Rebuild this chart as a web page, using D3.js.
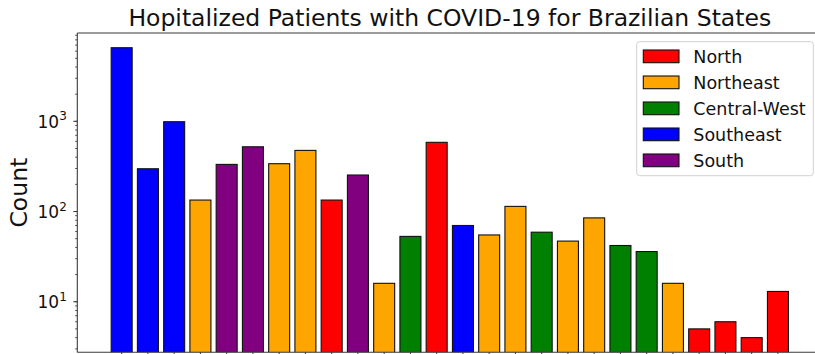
<!DOCTYPE html>
<html>
<head>
<meta charset="utf-8">
<script src="https://cdn.jsdelivr.net/npm/d3@7"></script>
<style>
  html, body { margin: 0; padding: 0; background: #fff; }
  svg { display: block; font-family: "DejaVu Sans", sans-serif; }
</style>
</head>
<body>
<svg id="chart" width="815" height="354"></svg>
<script>
// Hospitalized patient counts per state, grouped by region
const regions = ["Southeast","Southeast","Southeast","Northeast","South","South","Northeast","Northeast",
  "North","South","Northeast","Central-West","North","Southeast","Northeast","Northeast","Central-West",
  "Northeast","Northeast","Central-West","Central-West","Northeast","North","North","North","North"];
const counts = [6546, 298, 990, 134, 333, 522, 339, 476, 134, 254, 16, 53, 585, 70, 55, 114, 59,
  47, 85, 42, 36, 16, 5, 6, 4, 13];

const legendLabels = ["North", "Northeast", "Central-West", "Southeast", "South"];
const legendColors = ["red", "orange", "green", "blue", "purple"];
const yTickValues = [10, 100, 1000];
const yTickExponents = ["1", "2", "3"];

const colorOf = d3.scaleOrdinal().domain(legendLabels).range(legendColors);

const svg = d3.select("#chart");
const plot = { left: 77.3, right: 822.3, top: 33, bottom: 352.3 };

const x = d3.scaleLinear().domain([-1.69, 26.69]).range([plot.left, plot.right]);
const y = d3.scaleLog().domain([2.75, 9530]).range([plot.bottom, plot.top]);

svg.append("defs").append("clipPath").attr("id", "plotClip")
  .append("rect")
  .attr("x", plot.left).attr("y", plot.top)
  .attr("width", plot.right - plot.left).attr("height", plot.bottom - plot.top);

// Bars
const barW = x(0.8) - x(0);
svg.append("g").attr("clip-path", "url(#plotClip)")
  .selectAll("rect").data(counts).join("rect")
  .attr("x", (d, i) => x(i) - barW / 2)
  .attr("y", d => y(d))
  .attr("width", barW)
  .attr("height", d => plot.bottom + 5 - y(d))
  .attr("fill", (d, i) => colorOf(regions[i]))
  .attr("stroke", "#111")
  .attr("stroke-width", 1.1);

// Spines
const spine = svg.append("g").attr("stroke", "#3a3a3a").attr("stroke-width", 1.1).attr("fill", "none");
spine.append("line").attr("x1", plot.left).attr("x2", plot.left).attr("y1", plot.top).attr("y2", plot.bottom);
spine.append("line").attr("x1", plot.left).attr("x2", plot.right).attr("y1", plot.top).attr("y2", plot.top);
spine.append("line").attr("x1", plot.left).attr("x2", plot.right).attr("y1", plot.bottom).attr("y2", plot.bottom);

// Y axis: major and minor log ticks
const yAxis = svg.append("g").attr("transform", `translate(${plot.left},0)`);
const minorTicks = y.ticks().filter(v => v >= y.domain()[0] && v <= y.domain()[1]);
yAxis.selectAll("line.minor").data(minorTicks).join("line")
  .attr("class", "minor")
  .attr("x1", 0).attr("x2", -2.2)
  .attr("y1", d => y(d)).attr("y2", d => y(d))
  .attr("stroke", "#333").attr("stroke-width", 0.8);
yAxis.selectAll("line.major").data(yTickValues).join("line")
  .attr("class", "major")
  .attr("x1", 0).attr("x2", -4)
  .attr("y1", d => y(d)).attr("y2", d => y(d))
  .attr("stroke", "#333").attr("stroke-width", 1);
const labels = yAxis.selectAll("text").data(yTickValues).join("text")
  .attr("x", -10.5)
  .attr("y", d => y(d) + 6.6)
  .attr("text-anchor", "end")
  .attr("font-size", 17)
  .attr("fill", "#111");
labels.append("tspan").text("10");
labels.append("tspan").attr("font-size", 12).attr("dy", -7.5).text((d, i) => yTickExponents[i]);

// X axis ticks
svg.append("g").selectAll("line").data(counts).join("line")
  .attr("x1", (d, i) => x(i)).attr("x2", (d, i) => x(i))
  .attr("y1", plot.bottom).attr("y2", plot.bottom + 4)
  .attr("stroke", "#333").attr("stroke-width", 1);

// Axis label and title
svg.append("text")
  .attr("transform", `translate(27,${(plot.top + plot.bottom) / 2}) rotate(-90)`)
  .attr("text-anchor", "middle")
  .attr("font-size", 23.5)
  .attr("fill", "#111")
  .text("Count");

svg.append("text")
  .attr("x", (plot.left + plot.right) / 2)
  .attr("y", 26)
  .attr("text-anchor", "middle")
  .attr("font-size", 23.5)
  .attr("fill", "#111")
  .text("Hopitalized Patients with COVID-19 for Brazilian States");

// Legend
const legend = svg.append("g");
legend.append("rect")
  .attr("x", 636.7).attr("y", 41.7).attr("width", 176.6).attr("height", 134)
  .attr("rx", 3).attr("fill", "#fff").attr("fill-opacity", 0.8)
  .attr("stroke", "#d0d0d0").attr("stroke-width", 1);
const rows = legend.selectAll("g.row").data(legendLabels).join("g")
  .attr("class", "row")
  .attr("transform", (d, i) => `translate(643.3,${50 + 26 * i})`);
rows.append("rect")
  .attr("width", 35.7).attr("height", 12.7)
  .attr("fill", (d, i) => legendColors[i])
  .attr("stroke", "#111").attr("stroke-width", 1.1);
rows.append("text")
  .attr("x", 50).attr("y", 12.7)
  .attr("font-size", 17.5)
  .attr("fill", "#111")
  .text(d => d);
</script>
</body>
</html>
